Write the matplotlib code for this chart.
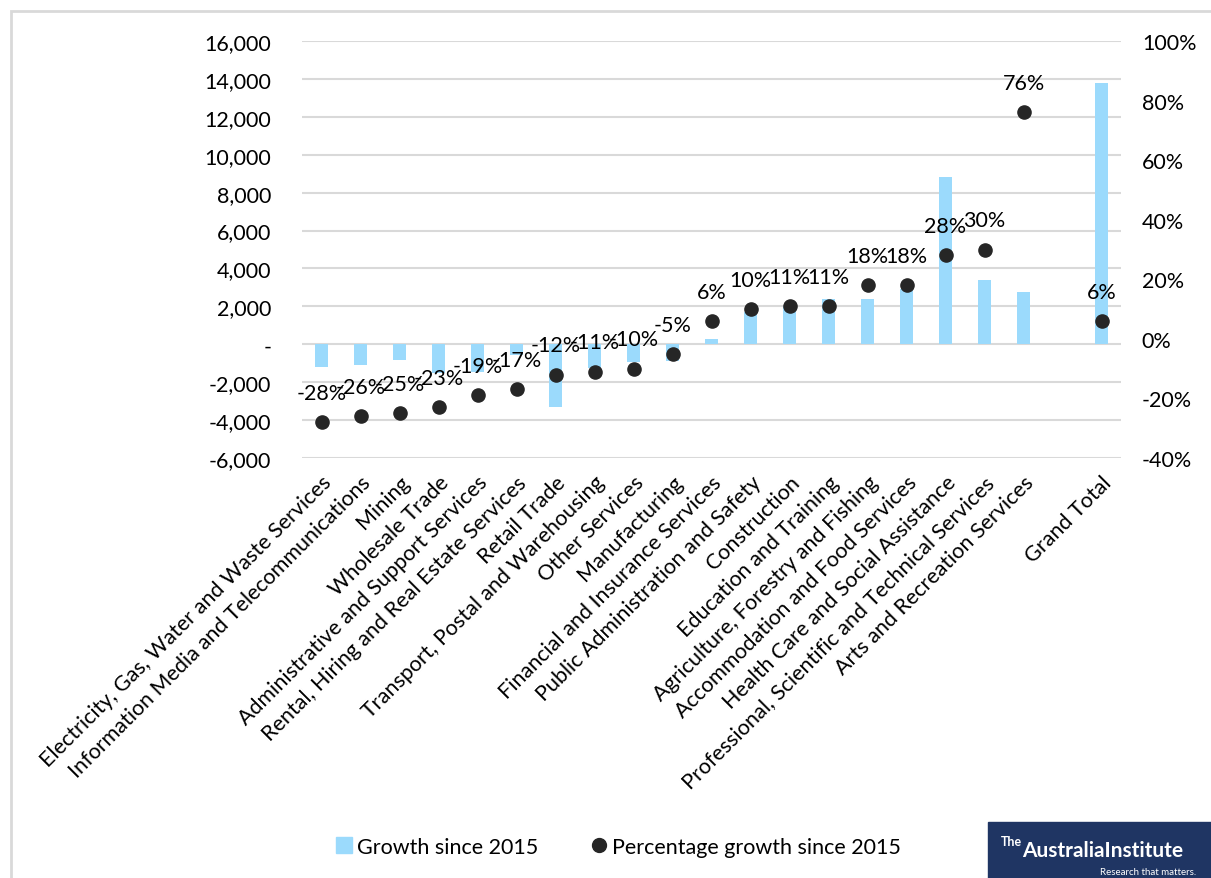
import numpy as np
import matplotlib
matplotlib.use("Agg")
import matplotlib.pyplot as plt
from matplotlib.patches import Rectangle
from matplotlib.ticker import FuncFormatter
from matplotlib.lines import Line2D

plt.rcParams['font.family'] = ['Lato', 'DejaVu Sans']

categories = [
    "Electricity, Gas, Water and Waste Services",
    "Information Media and Telecommunications",
    "Mining",
    "Wholesale Trade",
    "Administrative and Support Services",
    "Rental, Hiring and Real Estate Services",
    "Retail Trade",
    "Transport, Postal and Warehousing",
    "Other Services",
    "Manufacturing",
    "Financial and Insurance Services",
    "Public Administration and Safety",
    "Construction",
    "Education and Training",
    "Agriculture, Forestry and Fishing",
    "Accommodation and Food Services",
    "Health Care and Social Assistance",
    "Professional, Scientific and Technical Services",
    "Arts and Recreation Services",
    "",
    "Grand Total",
]
growth = [-1200, -1100, -830, -1500, -1450, -580, -3300, -1250, -950, -900,
          300, 1700, 2000, 2400, 2400, 2900, 8800, 3380, 2780, np.nan, 13770]
pct_growth = [-28, -26, -25, -23, -19, -17, -12, -11, -10, -5,
              6, 10, 11, 11, 18, 18, 28, 30, 76, np.nan, 6]

bar_color = "#9bdafc"
dot_color = "#262626"
grid_color = "#d9d9d9"
fs = 15.5

fig = plt.figure(figsize=(12.11, 8.79), dpi=100)
ax = fig.add_axes([302/1211, 1 - 459/879, (1121 - 302)/1211, (459 - 42)/879])
ax2 = ax.twinx()

x = np.arange(len(categories))
ax.bar(x, growth, width=0.31, color=bar_color, zorder=2)
ax.set_ylim(-6000, 16000)
ax.set_yticks(np.arange(-6000, 16001, 2000))
ax.yaxis.set_major_formatter(FuncFormatter(lambda v, p: "-" if v == 0 else f"{v:,.0f}"))
ax.grid(axis='y', color=grid_color, lw=1.5, zorder=0)
ax.set_axisbelow(True)
ax.set_xlim(-0.5, len(categories) - 0.5)
ax.set_xticks(x)
ax.set_xticklabels(categories, rotation=45, ha='right', rotation_mode='anchor', fontsize=fs)
ax.tick_params(axis='x', length=0, pad=10)
ax.tick_params(axis='y', length=0, pad=22, labelsize=fs)

ax2.scatter(x, pct_growth, s=90, color=dot_color, zorder=3)
ax2.set_ylim(-40, 100)
ax2.set_yticks(np.arange(-40, 101, 20))
ax2.yaxis.set_major_formatter(FuncFormatter(lambda v, p: f"{v:.0f}%"))
ax2.tick_params(axis='y', length=0, pad=15, labelsize=fs)
for i, v in enumerate(pct_growth):
    if np.isnan(v):
        continue
    ax2.annotate(f"{v:.0f}%", (x[i], v), xytext=(0, 21), textcoords='offset points',
                 ha='center', va='center', fontsize=fs, color='#000000')

for a in (ax, ax2):
    for s in a.spines.values():
        s.set_visible(False)

# legend
handles = [
    Line2D([], [], marker='s', ls='', color=bar_color, markersize=11),
    Line2D([], [], marker='o', ls='', color=dot_color, markersize=10),
]
fig.legend(handles, ["Growth since 2015", "Percentage growth since 2015"],
           loc='center', bbox_to_anchor=(617/1211, 1 - 848/879), ncol=2,
           frameon=False, fontsize=fs, handletextpad=0.1, columnspacing=2.3,
           handlelength=1.0)

# outer frame
fig.patches.append(Rectangle((11/1211, -0.1), 1.2, 1 - 12/879 + 0.1,
                             transform=fig.transFigure, fill=False,
                             edgecolor="#d9d9d9", lw=2))

# logo
fig.patches.append(Rectangle((988/1211, 0), (1211 - 988)/1211, (879 - 823)/879,
                             transform=fig.transFigure, color="#1f3563", zorder=5))
fig.text(1022/1211, 1 - 848/879, "The", color='white',
         fontsize=9, fontweight='bold', ha='right', va='bottom', zorder=6)
fig.text(1022/1211, 1 - 851/879, "AustraliaInstitute", color='white',
         fontsize=15, fontweight='bold', ha='left', va='center', zorder=6)
fig.text(1196/1211, 1 - 873/879, "Research that matters.", color='white',
         fontsize=7, ha='right', va='center', zorder=6)

fig.savefig("out.png", dpi=100)
